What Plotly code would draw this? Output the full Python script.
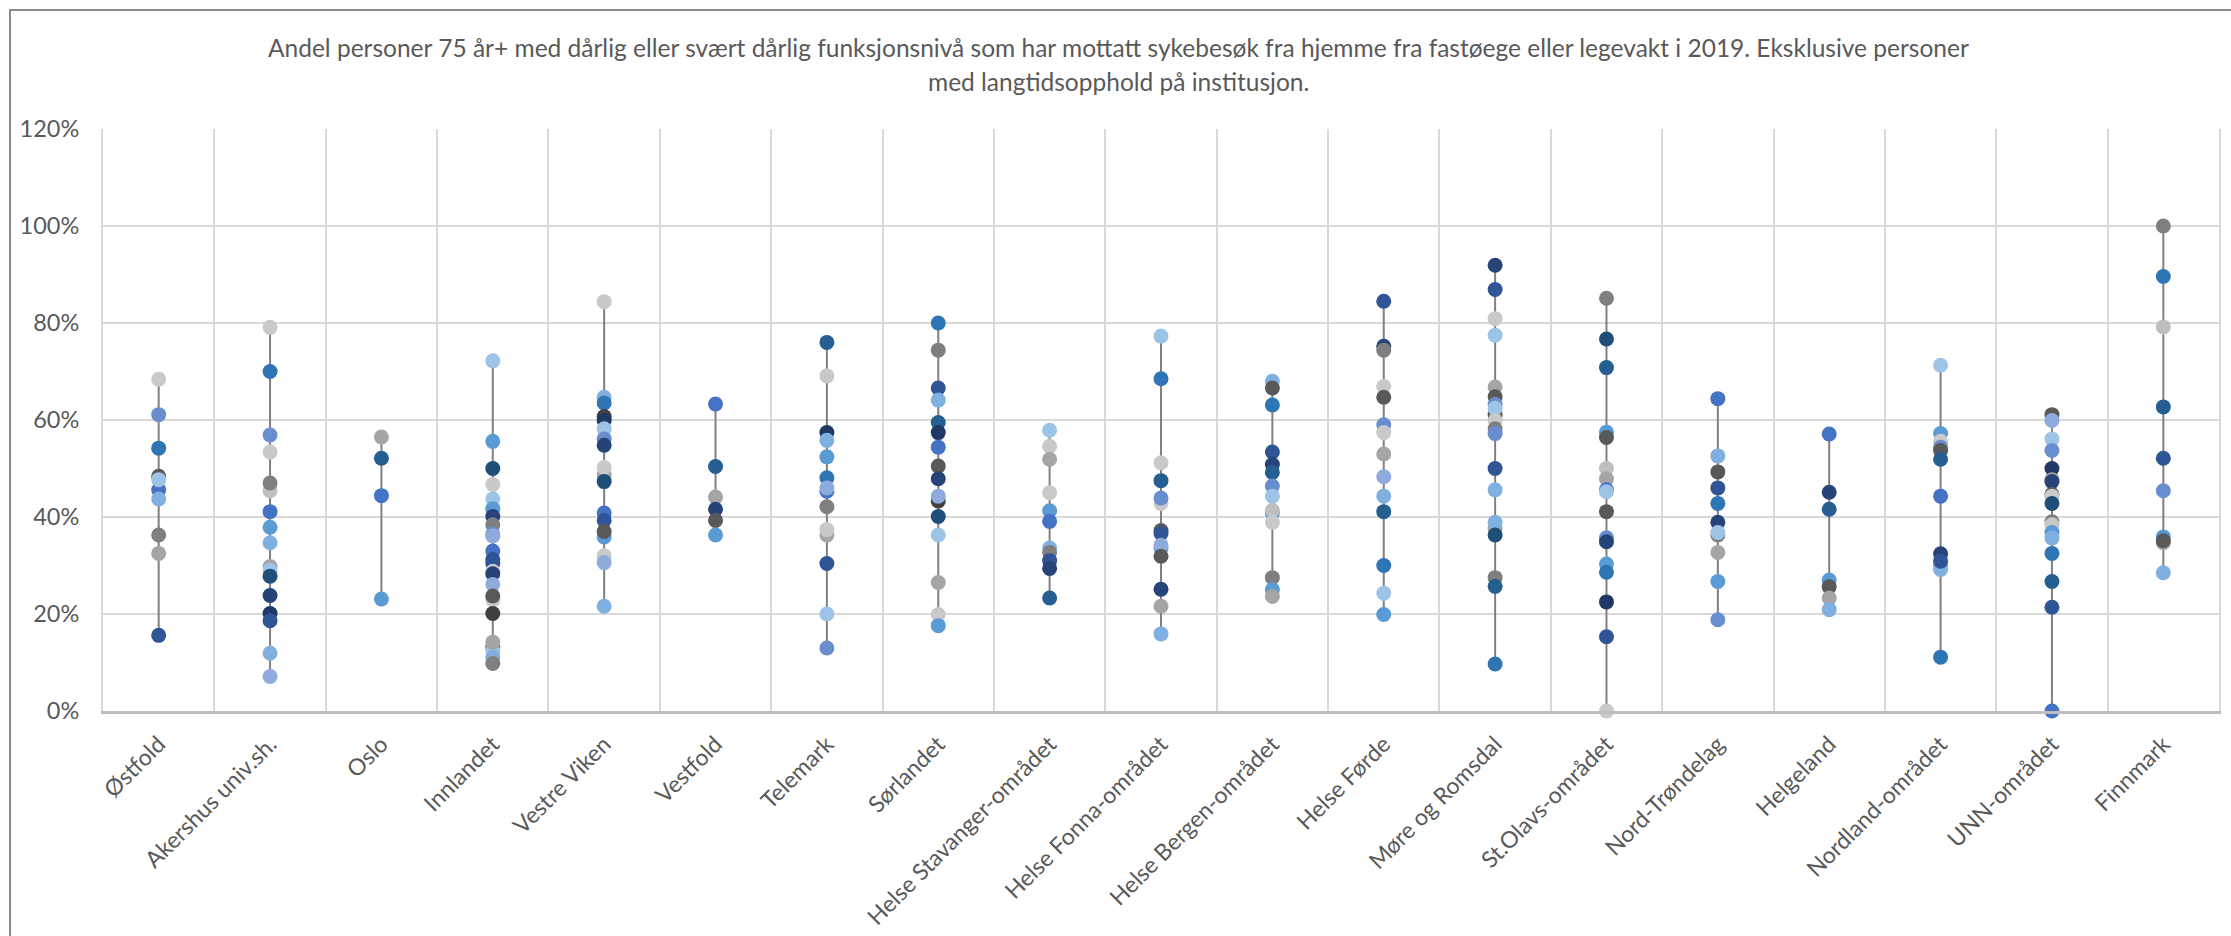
import plotly.graph_objects as go

# ---------------- data (percent) ----------------
categories = ["Østfold", "Akershus univ.sh.", "Oslo", "Innlandet", "Vestre Viken", "Vestfold",
              "Telemark", "Sørlandet", "Helse Stavanger-området", "Helse Fonna-området",
              "Helse Bergen-området", "Helse Førde", "Møre og Romsdal", "St.Olavs-området",
              "Nord-Trøndelag", "Helgeland", "Nordland-området", "UNN-området", "Finnmark"]

ostfold = [68.4, 61.1, 54.2, 45.6, 48.4, 47.7, 43.7, 36.3, 32.5, 15.6]
akershus = [79.1, 70.0, 56.9, 53.4, 45.4, 47.0, 41.1, 37.9, 34.7, 29.8, 29.0, 27.8, 23.8, 20.1, 18.6, 11.9, 7.1]
oslo = [56.5, 52.1, 44.4, 23.1]
innlandet = [72.2, 55.6, 50.0, 46.7, 43.7, 41.8, 41.6, 40.1, 38.4, 36.5, 36.1, 33.0, 31.3, 30.4,
             28.8, 28.3, 26.1, 22.9, 23.7, 20.1, 13.2, 12.4, 11.1, 9.8, 14.2]
vestre_viken = [84.4, 64.7, 63.5, 60.7, 59.9, 58.2, 56.1, 54.8, 48.7, 50.2, 47.3, 40.8, 39.3, 35.9,
                37.0, 32.0, 30.6, 21.6]
vestfold = [63.3, 50.4, 44.1, 41.6, 39.3, 36.3]
telemark = [76.0, 69.1, 57.4, 55.8, 52.4, 48.1, 45.3, 46.0, 42.1, 36.3, 37.4, 30.4, 20.0, 13.0]
sorlandet = [80.0, 74.4, 66.6, 64.1, 59.5, 57.4, 54.4, 50.5, 47.9, 43.3, 44.3, 40.1, 36.3, 26.5, 19.9, 17.6]
stavanger = [57.9, 54.6, 51.9, 45.0, 41.3, 39.1, 33.6, 32.7, 31.0, 29.4, 23.3]
fonna = [77.3, 68.5, 51.2, 47.5, 42.8, 43.9, 37.2, 36.6, 33.6, 34.2, 31.9, 25.1, 21.6, 15.9]
bergen = [68.0, 66.6, 63.1, 53.4, 50.8, 49.2, 46.4, 44.3, 40.8, 41.4, 38.9, 27.5, 25.0, 23.6]
forde = [84.5, 75.2, 74.4, 66.9, 64.7, 59.0, 57.4, 53.0, 48.3, 44.3, 41.1, 30.0, 24.3, 19.9]
more_romsdal = [91.9, 86.9, 80.9, 77.5, 66.8, 64.8, 63.2, 61.1, 62.4, 59.9, 58.2, 57.2, 50.0, 45.6,
                37.6, 38.9, 36.3, 27.5, 25.7, 9.7]
st_olavs = [85.1, 76.7, 70.8, 57.5, 56.4, 50.0, 47.9, 45.6, 45.2, 41.1, 35.7, 34.9, 30.3, 28.6, 22.5, 15.3, 0.0]
nord_trondelag = [64.4, 52.6, 49.3, 46.0, 42.8, 38.9, 36.3, 36.8, 32.7, 26.7, 18.8]
helgeland = [57.1, 45.1, 41.6, 27.0, 25.6, 23.3, 20.9]
nordland = [71.3, 57.2, 55.6, 54.4, 53.7, 51.9, 44.3, 32.4, 29.8, 29.2, 30.9, 11.1]
unn = [61.1, 59.9, 56.1, 53.7, 50.0, 47.7, 47.3, 44.7, 44.3, 42.8, 39.0, 38.4, 36.8, 35.7, 32.5, 26.7, 21.4, 0.0]
finnmark = [100.0, 89.6, 79.2, 62.7, 52.1, 45.4, 35.9, 34.7, 35.1, 28.5]

series_values = [ostfold, akershus, oslo, innlandet, vestre_viken, vestfold, telemark, sorlandet,
                 stavanger, fonna, bergen, forde, more_romsdal, st_olavs, nord_trondelag, helgeland,
                 nordland, unn, finnmark]

# ---------------- styles ----------------
palette = {
    "b1": "#4472C4", "b2": "#2E75B6", "b3": "#5B9BD5", "b4": "#9DC3E6", "b5": "#7FB0DF",
    "b6": "#698ED0", "b7": "#8FAADC",
    "n1": "#264478", "n2": "#1F3864", "n3": "#255E91", "n4": "#2F5597", "n5": "#1F4E79",
    "g1": "#A5A5A5", "g2": "#7F7F7F", "g3": "#595959", "g4": "#C9C9C9", "g5": "#BFBFBF", "g6": "#404040",
}
color_keys = [
    ["g4", "b6", "b2", "b1", "g3", "b4", "b5", "g2", "g1", "n4"],
    ["g4", "b2", "b6", "g4", "g5", "g2", "b1", "b3", "b5", "g1", "b4", "n5", "n1", "n2", "n4", "b5", "b7"],
    ["g1", "n3", "b1", "b3"],
    ["b4", "b3", "n5", "g4", "b4", "b5", "b3", "n1", "g2", "b6", "b7", "b1", "n4", "n4",
     "g4", "n1", "b7", "g4", "g3", "g6", "n3", "b4", "b5", "g2", "g1"],
    ["g4", "b5", "b2", "g6", "n2", "b4", "b6", "n1", "g1", "g4", "n5", "b1", "n4", "b3",
     "g3", "g4", "b7", "b5"],
    ["b1", "n3", "g1", "n1", "g3", "b3"],
    ["n3", "g4", "n2", "b5", "b3", "b2", "b1", "b7", "g2", "g1", "g4", "n4", "b4", "b6"],
    ["b2", "g2", "n4", "b5", "n3", "n2", "b1", "g3", "n1", "g6", "b7", "n5", "b4", "g1", "g4", "b3"],
    ["b4", "g4", "g1", "g4", "b3", "b1", "b5", "g2", "n4", "n1", "n3"],
    ["b4", "b2", "g4", "n3", "g4", "b6", "g3", "n4", "b3", "b7", "g3", "n1", "g1", "b5"],
    ["b5", "g3", "b2", "n4", "n1", "n3", "b6", "b4", "b3", "g5", "g4", "g2", "b3", "g1"],
    ["n4", "n1", "g2", "g4", "g3", "b6", "g4", "g1", "b7", "b5", "n3", "b2", "b4", "b3"],
    ["n1", "n4", "g4", "b4", "g1", "g3", "b6", "g3", "b4", "g4", "g2", "b6", "n4", "b5",
     "g1", "b5", "n5", "g2", "n3", "b2"],
    ["g2", "n5", "n3", "b3", "g3", "g5", "g1", "b1", "b4", "g3", "b6", "n1", "b3", "b2", "n2", "n4", "g4"],
    ["b1", "b5", "g3", "n4", "b2", "n1", "g2", "b4", "g1", "b3", "b6"],
    ["b1", "n1", "n3", "b3", "g3", "g1", "b5"],
    ["b4", "b3", "g4", "b6", "g3", "n3", "b1", "n1", "g1", "b5", "n4", "b2"],
    ["g3", "b7", "b4", "b6", "n2", "g1", "n1", "g3", "g4", "n5", "g2", "g4", "b3", "b5", "b2", "n3", "n4", "b1"],
    ["g2", "b2", "g5", "n3", "n4", "b6", "b3", "g1", "g3", "b5"],
]

title_line1 = ("Andel personer 75 år+ med dårlig eller svært dårlig funksjonsnivå som har mottatt "
               "sykebesøk fra hjemme fra fastøege eller legevakt i 2019. Eksklusive personer")
title_line2 = "med langtidsopphold på institusjon."

# ---------------- geometry (pixels) ----------------
W, H = 2231, 936
L, R, T, B = 103, 12, 129, 225
pw, ph = W - L - R, H - T - B

def px_to_paper_x(px):
    return (px - L) / pw

def px_to_paper_y(py):
    return (H - B - py) / ph

text_color = "#595959"
font_family = "Lato, 'Open Sans', sans-serif"

fig = go.Figure()

# high-low lines
hx, hy = [], []
for cat, vals in zip(categories, series_values):
    hx += [cat, cat, None]
    hy += [min(vals), max(vals), None]
fig.add_trace(go.Scatter(x=hx, y=hy, mode="lines", line=dict(color="#808080", width=2),
                         hoverinfo="skip", showlegend=False, cliponaxis=False))

for cat, vals, keys in zip(categories, series_values, color_keys):
    cols = [palette[k] for k in keys]
    fig.add_trace(go.Scatter(
        x=[cat] * len(vals), y=vals, mode="markers",
        marker=dict(size=15, color=cols, line=dict(width=0)),
        showlegend=False, cliponaxis=False,
        hovertemplate="%{x}: %{y:.1f}%<extra></extra>"))

fig.update_layout(
    template="none",
    width=W, height=H, autosize=False,
    margin=dict(l=L, r=R, t=T, b=B, pad=0),
    paper_bgcolor="white", plot_bgcolor="white",
    font=dict(family=font_family, color=text_color, size=23),
    showlegend=False,
    xaxis=dict(type="category", categoryorder="array", categoryarray=categories,
               tickson="boundaries", showgrid=True, gridcolor="#D9D9D9", gridwidth=2,
               showline=True, linecolor="#BFBFBF", linewidth=2.5, mirror=False,
               ticks="", tickangle=-45, tickfont=dict(size=23, color=text_color),
               automargin=False, zeroline=False, range=[-0.5, len(categories) - 0.5],
               ticklabelstandoff=8),
    yaxis=dict(range=[0, 120], dtick=20, tick0=0, ticksuffix="%", showgrid=True,
               gridcolor="#D9D9D9", gridwidth=2, zeroline=False,
               showline=True, linecolor="#D9D9D9", linewidth=2, mirror=True,
               ticks="", tickfont=dict(size=23.5, color=text_color), automargin=False,
               ticklabelstandoff=17),
    annotations=[
        dict(text=title_line1, xref="paper", yref="paper", x=px_to_paper_x(1118), y=px_to_paper_y(47),
             xanchor="center", yanchor="middle", showarrow=False,
             font=dict(size=24.5, color=text_color, family=font_family)),
        dict(text=title_line2, xref="paper", yref="paper", x=px_to_paper_x(1118), y=px_to_paper_y(81),
             xanchor="center", yanchor="middle", showarrow=False,
             font=dict(size=24.5, color=text_color, family=font_family)),
    ],
    shapes=[dict(type="rect", xref="paper", yref="paper",
                 x0=px_to_paper_x(10), x1=px_to_paper_x(W + 20),
                 y0=px_to_paper_y(H + 20), y1=px_to_paper_y(10),
                 line=dict(color="#898989", width=2), fillcolor="rgba(0,0,0,0)", layer="below")],
)

# remove the browser's default 8px page margin so the figure sits at the window origin
fig.write_html("out.html", config={"displayModeBar": False},
               post_script="document.body.style.margin='0px';")
